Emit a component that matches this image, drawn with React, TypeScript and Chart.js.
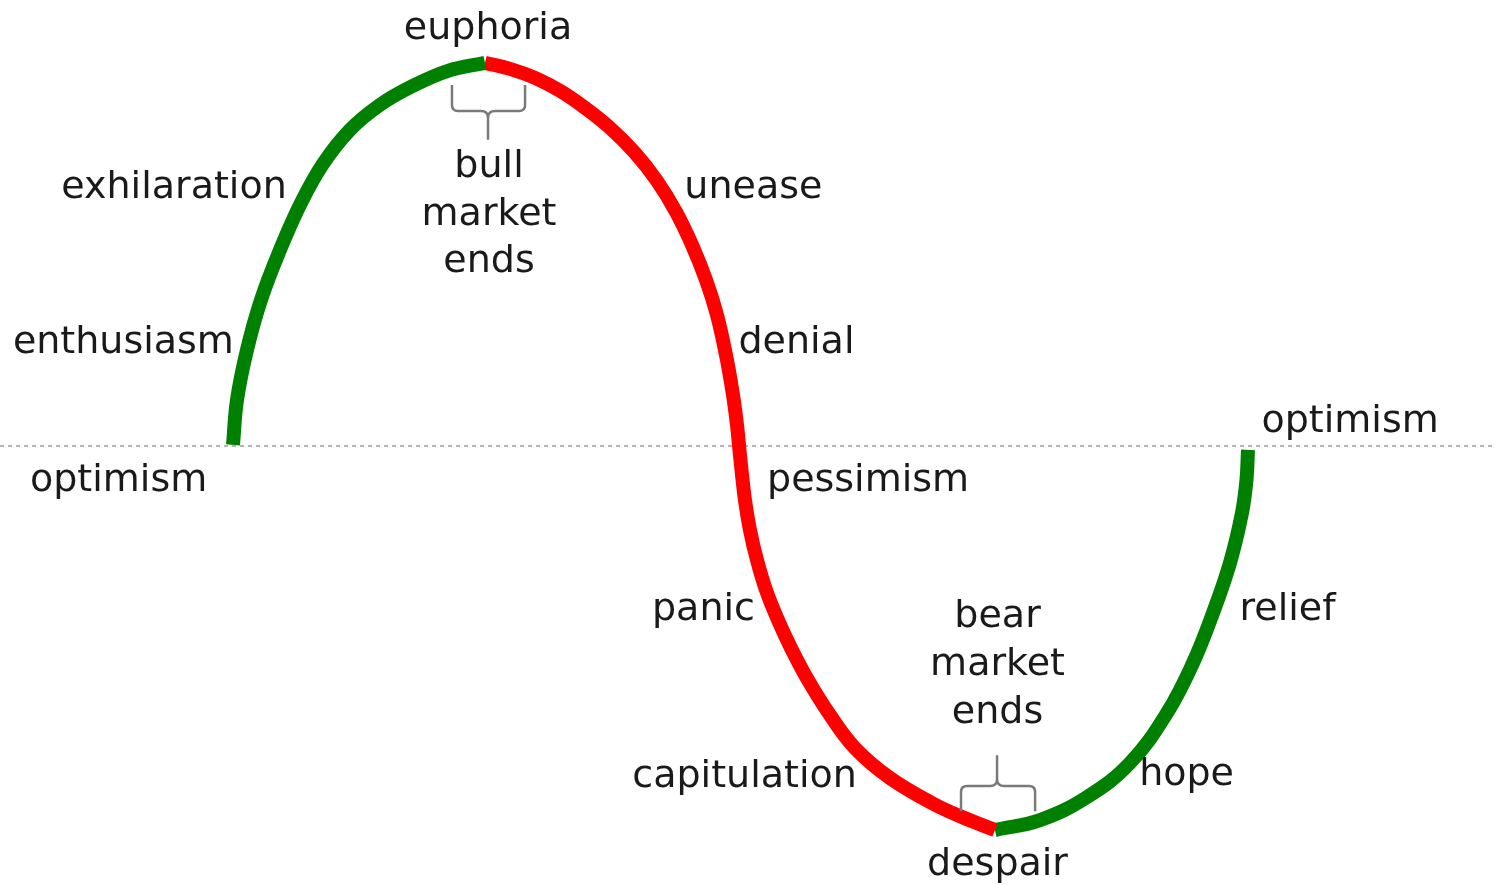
import React, { useEffect, useRef } from "react";
import { Chart, registerables } from "chart.js";

Chart.register(...registerables);

// Time axis (cycle phase) and sentiment (0 = neutral baseline)
const bullRunT = [0, 1.59, 5.56, 11.11, 18.65, 26.98, 35.71, 46.43, 58.33, 71.43, 85.32, 100];
const bullRunS = [0.26, 11.98, 25.0, 38.02, 51.04, 63.28, 73.44, 82.29, 88.8, 93.75, 97.66, 99.74];

const bearRunT = [
  100, 109.92, 119.84, 129.76, 139.68, 149.6, 159.52, 168.25, 175.79, 182.14, 187.7, 192.06, 195.63,
  198.41, 200.0, 200.79, 201.79, 203.17, 205.16, 207.94, 211.51, 216.27, 221.83, 228.17, 236.9,
  246.83, 260.71, 277.38, 289.29, 302.38,
];
const bearRunS = [
  99.74, 98.18, 95.83, 92.45, 88.02, 82.81, 76.3, 69.01, 60.94, 52.34, 43.23, 34.11, 23.7,
  13.28, 5.47, 0.26, -6.25, -14.06, -21.88, -29.69, -37.5, -45.31, -53.13, -60.94, -70.05,
  -78.65, -86.46, -92.97, -96.61, -100,
];

const recoveryT = [302.38, 320.24, 338.89, 355.95, 370.63, 380.95, 388.89, 395.63, 400.4, 402.18, 402.78];
const recoveryS = [-100, -97.4, -91.41, -82.55, -69.53, -56.51, -43.49, -30.47, -17.45, -8.85, -1.04];

const baselineT = [-92.46, 501.2];
const baselineS = [0, 0];

// Stage labels (text, anchor phase, anchor sentiment at text baseline)
const labelTexts = [
  "euphoria", "exhilaration", "bull", "market", "ends", "unease", "enthusiasm", "denial",
  "optimism", "optimism", "pessimism", "panic", "relief", "bear", "market", "ends",
  "capitulation", "hope", "despair",
];
const labelT = [
  101.2, -23.4, 101.6, 101.6, 101.6, 206.5, -43.5, 223.6,
  -45.4, 443.3, 252, 186.7, 418.5, 303.4, 303.4, 303.4,
  203.0, 378.4, 303.4,
];
const labelS = [
  106.0, 64.6, 70.1, 57.6, 45.3, 64.6, 24.2, 24.2,
  -11.7, 3.6, -11.7, -45.4, -45.4, -47.1, -59.6, -72.1,
  -88.8, -88.3, -111.7,
];

// Braces marking the turning points: [left, tip, right] phase; [ends, bar, tip] sentiment
const braceT = [[86.9, 101.2, 115.9], [288.9, 303.2, 318.3]];
const braceS = [[94.0, 87.2, 79.7], [-95.1, -88.5, -80.5]];

const X_MIN = -92.46;
const X_MAX = 501.2;
const Y_MIN = -114.3;
const Y_MAX = 116.1;

const toPts = (xs: number[], ys: number[]) => xs.map((x, i) => ({ x, y: ys[i] }));

const annotationPlugin = {
  id: "cycleAnnotations",
  afterDatasetsDraw(chart: any) {
    const ctx = chart.ctx as CanvasRenderingContext2D;
    const xs = chart.scales.x;
    const ys = chart.scales.y;
    ctx.save();
    // braces
    ctx.strokeStyle = "#7a7a7a";
    ctx.lineWidth = 2.5;
    ctx.lineJoin = "round";
    braceT.forEach((bt, i) => {
      const bs = braceS[i];
      const l = xs.getPixelForValue(bt[0]);
      const m = xs.getPixelForValue(bt[1]);
      const r = xs.getPixelForValue(bt[2]);
      const e = ys.getPixelForValue(bs[0]);
      const b = ys.getPixelForValue(bs[1]);
      const t = ys.getPixelForValue(bs[2]);
      const dir = b > e ? 1 : -1;
      const rad = 6;
      const cr = 7;
      ctx.beginPath();
      ctx.moveTo(l, e);
      ctx.lineTo(l, b - dir * rad);
      ctx.quadraticCurveTo(l, b, l + rad, b);
      ctx.lineTo(m - cr, b);
      ctx.quadraticCurveTo(m, b, m, b + dir * cr);
      ctx.lineTo(m, t);
      ctx.moveTo(m, b + dir * cr);
      ctx.quadraticCurveTo(m, b, m + cr, b);
      ctx.lineTo(r - rad, b);
      ctx.quadraticCurveTo(r, b, r, b - dir * rad);
      ctx.lineTo(r, e);
      ctx.stroke();
    });
    // labels
    ctx.fillStyle = "#1a1a1a";
    ctx.font = '38px "DejaVu Sans"';
    ctx.textAlign = "center";
    ctx.textBaseline = "alphabetic";
    labelTexts.forEach((txt, i) => {
      ctx.fillText(txt, xs.getPixelForValue(labelT[i]), ys.getPixelForValue(labelS[i]));
    });
    ctx.restore();
  },
};

export default function App() {
  const ref = useRef<HTMLCanvasElement | null>(null);
  useEffect(() => {
    if (!ref.current) return;
    const curve = { borderWidth: 14, pointRadius: 0, tension: 0.4, order: 1 };
    const chart = new Chart(ref.current, {
      type: "line",
      data: {
        datasets: [
          { ...curve, data: toPts(bullRunT, bullRunS), borderColor: "#008000" },
          { ...curve, data: toPts(bearRunT, bearRunS), borderColor: "#ff0000" },
          { ...curve, data: toPts(recoveryT, recoveryS), borderColor: "#008000" },
          {
            data: toPts(baselineT, baselineS),
            borderColor: "#b4b4b4",
            borderWidth: 2,
            borderDash: [4, 4],
            pointRadius: 0,
            order: 10,
          },
        ],
      },
      options: {
        animation: false,
        responsive: false,
        maintainAspectRatio: false,
        layout: { padding: 0 },
        plugins: { legend: { display: false }, tooltip: { enabled: false } },
        events: [],
        scales: {
          x: { type: "linear", min: X_MIN, max: X_MAX, display: false },
          y: { type: "linear", min: Y_MIN, max: Y_MAX, display: false },
        },
        clip: false as any,
      } as any,
      plugins: [annotationPlugin],
    });
    return () => chart.destroy();
  }, []);
  return (
    <div style={{ position: "absolute", left: 0, top: 0, width: 1496, height: 885, background: "#fff" }}>
      <canvas ref={ref} width={1496} height={885} style={{ display: "block" }} />
    </div>
  );
}
